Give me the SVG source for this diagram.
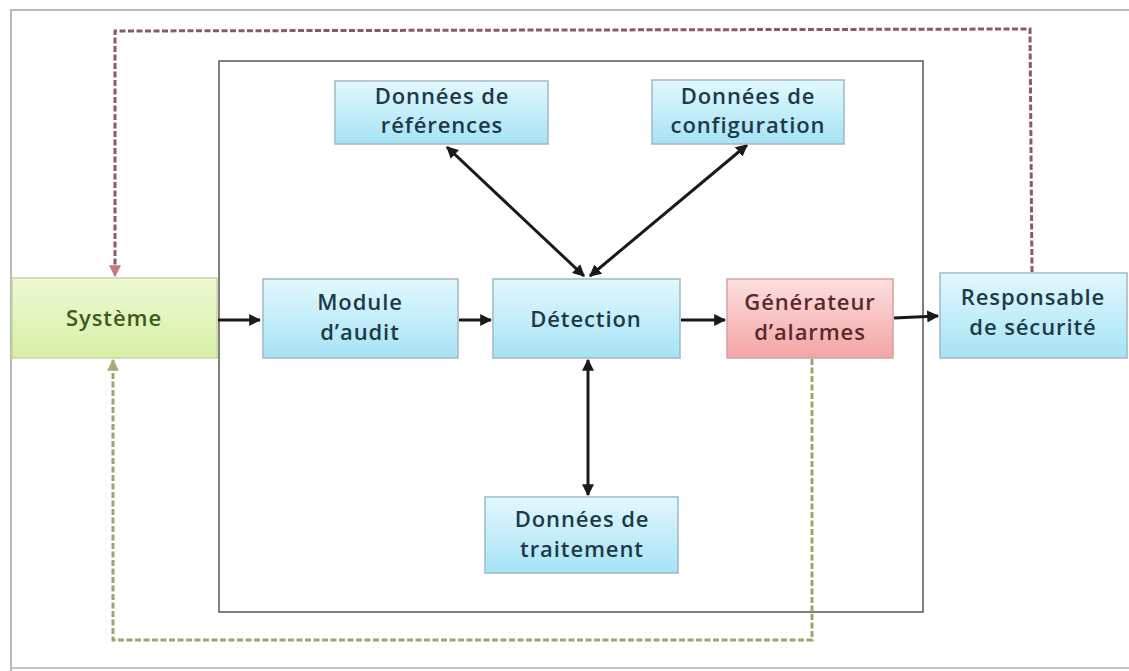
<svg xmlns="http://www.w3.org/2000/svg" width="1129" height="671" viewBox="0 0 1129 671">
  <defs>
    <linearGradient id="gBlue" x1="0" y1="0" x2="0" y2="1">
      <stop offset="0" stop-color="#e2f8fd"/>
      <stop offset="1" stop-color="#a6e3f6"/>
    </linearGradient>
    <linearGradient id="gGreen" x1="0" y1="0" x2="0" y2="1">
      <stop offset="0" stop-color="#eef9d6"/>
      <stop offset="1" stop-color="#d6f0a4"/>
    </linearGradient>
    <linearGradient id="gRed" x1="0" y1="0" x2="0" y2="1">
      <stop offset="0" stop-color="#fce0e0"/>
      <stop offset="1" stop-color="#f4a4a4"/>
    </linearGradient>
    <marker id="ah" viewBox="0 0 10 10" refX="9" refY="5" markerWidth="4" markerHeight="4" orient="auto-start-reverse" markerUnits="strokeWidth">
      <path d="M0,0 L10,5 L0,10 z" fill="#1a1a1a"/>
    </marker>
    <marker id="ahRed" viewBox="0 0 10 10" refX="9" refY="5" markerWidth="4" markerHeight="4" orient="auto" markerUnits="strokeWidth">
      <path d="M0,0 L10,5 L0,10 z" fill="#c27a80"/>
    </marker>
    <marker id="ahGreen" viewBox="0 0 10 10" refX="9" refY="5" markerWidth="4" markerHeight="4" orient="auto" markerUnits="strokeWidth">
      <path d="M0,0 L10,5 L0,10 z" fill="#a3ad7a"/>
    </marker>
  </defs>
  <style>
    .box { stroke: #9fb9c3; stroke-width: 1.5; }
    .blue { fill: url(#gBlue); }
    .green { fill: url(#gGreen); stroke: #c5d6a0; }
    .red { fill: url(#gRed); stroke: #d9a0a0; }
    .lbl { font-family: "Open Sans", "Liberation Sans", sans-serif; font-size: 22px; font-weight: 600; letter-spacing: 0.9px; text-anchor: middle; fill: #1e3a48; }
    .lblG { fill: #3e5a22; }
    .lblR { fill: #5a2a2a; }
    .arrow { fill: none; stroke: #1a1a1a; stroke-width: 3; marker-end: url(#ah); }
    .both { marker-start: url(#ah); }
    .dashR { fill: none; stroke: #8e5a60; stroke-width: 3; stroke-dasharray: 6 2.5; marker-end: url(#ahRed); }
    .dashG { fill: none; stroke: #9ea46c; stroke-width: 3; stroke-dasharray: 6 2.5; marker-end: url(#ahGreen); }
  </style>

  <rect width="1129" height="671" fill="#ffffff"/>

  <!-- outer frame -->
  <path d="M11,671 L11,10 L1129,10" fill="none" stroke="#b8b8b8" stroke-width="2"/>
  <path d="M11,668 L1129,668" fill="none" stroke="#c4c4c4" stroke-width="2"/>

  <!-- inner boundary -->
  <rect id="boundary" x="219" y="61" width="704" height="551" fill="none" stroke="#555555" stroke-width="1.5"/>

  <g id="connectors">
    <path class="dashR" d="M1032,272 L1030,29 L115,31 L115,276"/>
    <path class="dashG" d="M812,359 L812,640 L113,640 L113,360"/>
    <path class="arrow" d="M218,320 L260,320"/>
    <path class="arrow" d="M459,320 L491,320"/>
    <path class="arrow" d="M681,320 L725,320"/>
    <path class="arrow" d="M894,318 L938,316"/>
    <path class="arrow both" d="M447,147 L584,276"/>
    <path class="arrow both" d="M747,145 L590,276"/>
    <path class="arrow both" d="M588,360 L588,495"/>
  </g>

  <g id="systeme">
    <rect class="box green" x="12" y="278" width="205" height="80"/>
    <text class="lbl lblG" x="114" y="326">Système</text>
  </g>

  <g id="module-audit">
    <rect class="box blue" x="263" y="279" width="195" height="79"/>
    <text class="lbl" x="360" y="310">Module</text>
    <text class="lbl" x="360" y="340">d’audit</text>
  </g>

  <g id="detection">
    <rect class="box blue" x="493" y="279" width="187" height="79"/>
    <text class="lbl" x="586" y="327">Détection</text>
  </g>

  <g id="generateur">
    <rect class="box red" x="727" y="279" width="166" height="79"/>
    <text class="lbl lblR" x="810" y="310">Générateur</text>
    <text class="lbl lblR" x="810" y="340">d’alarmes</text>
  </g>

  <g id="responsable">
    <rect class="box blue" x="940" y="273" width="187" height="85"/>
    <text class="lbl" x="1033" y="305">Responsable</text>
    <text class="lbl" x="1033" y="335">de sécurité</text>
  </g>

  <g id="donnees-references">
    <rect class="box blue" x="335" y="81" width="213" height="63"/>
    <text class="lbl" x="442" y="104">Données de</text>
    <text class="lbl" x="442" y="133">références</text>
  </g>

  <g id="donnees-configuration">
    <rect class="box blue" x="652" y="80" width="192" height="64"/>
    <text class="lbl" x="748" y="104">Données de</text>
    <text class="lbl" x="748" y="133">configuration</text>
  </g>

  <g id="donnees-traitement">
    <rect class="box blue" x="485" y="497" width="193" height="76"/>
    <text class="lbl" x="582" y="527">Données de</text>
    <text class="lbl" x="582" y="557">traitement</text>
  </g>
</svg>
